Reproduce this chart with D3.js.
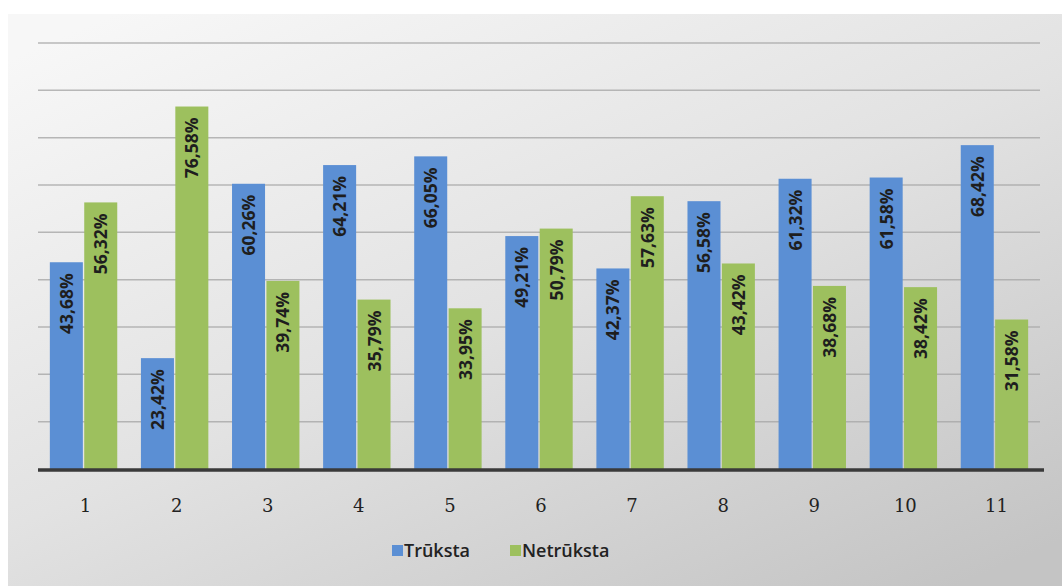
<!DOCTYPE html>
<html>
<head>
<meta charset="utf-8">
<script src="https://cdn.jsdelivr.net/npm/d3@7"></script>
<style>
  body { margin: 0; background: #fff; }
  svg { display: block; }
</style>
</head>
<body>
<div id="chart"></div>
<script>
var categories = ["1", "2", "3", "4", "5", "6", "7", "8", "9", "10", "11"];
var seriesNames = ["Trūksta", "Netrūksta"];
var trukstaValues = [43.68, 23.42, 60.26, 64.21, 66.05, 49.21, 42.37, 56.58, 61.32, 61.58, 68.42];
var netrukstaValues = [56.32, 76.58, 39.74, 35.79, 33.95, 50.79, 57.63, 43.42, 38.68, 38.42, 31.58];
var yTicks = [10, 20, 30, 40, 50, 60, 70, 80, 90];

var width = 1062,
    height = 586,
    margin = {top: 43, right: 22, bottom: 117, left: 38};

var colors = {"Trūksta": "#5b8fd4", "Netrūksta": "#9dc05e"};

var svg = d3.select("#chart").append("svg")
  .attr("width", width)
  .attr("height", height);

// background gradient
var defs = svg.append("defs");
var grad = defs.append("linearGradient")
  .attr("id", "bg")
  .attr("x1", "10%").attr("y1", "0%")
  .attr("x2", "90%").attr("y2", "100%");
grad.append("stop").attr("offset", "0%").attr("stop-color", "#f7f7f7");
grad.append("stop").attr("offset", "50%").attr("stop-color", "#e2e2e2");
grad.append("stop").attr("offset", "100%").attr("stop-color", "#c4c4c4");

svg.append("rect")
  .attr("x", 8).attr("y", 14)
  .attr("width", width - 8).attr("height", height - 14)
  .attr("fill", "url(#bg)");

var x = d3.scaleBand()
  .domain(categories)
  .range([margin.left, width - margin.right])
  .paddingInner(0.26)
  .paddingOuter(0.13);

var x1 = d3.scaleBand()
  .domain(seriesNames)
  .range([0, x.bandwidth()])
  .paddingInner(0.04);

var y = d3.scaleLinear()
  .domain([0, 90])
  .range([469, 43]);

// gridlines
svg.append("g")
  .selectAll("line")
  .data(yTicks)
  .enter()
  .append("line")
  .attr("x1", margin.left)
  .attr("x2", width - margin.right)
  .attr("y1", d => y(d))
  .attr("y2", d => y(d))
  .style("stroke", "#a8a8a8")
  .style("stroke-width", 1.5)
  .style("opacity", 0.8);

var rows = categories.map(function(c, i) {
  return {cat: c, values: [
    {name: seriesNames[0], value: trukstaValues[i]},
    {name: seriesNames[1], value: netrukstaValues[i]}
  ]};
});

var groups = svg.selectAll("g.cat")
  .data(rows)
  .enter()
  .append("g")
  .attr("class", "cat")
  .attr("transform", d => "translate(" + x(d.cat) + ",0)");

groups.selectAll("rect")
  .data(d => d.values)
  .enter()
  .append("rect")
  .attr("x", d => x1(d.name))
  .attr("width", x1.bandwidth())
  .attr("y", d => y(d.value))
  .attr("height", d => y(0) - y(d.value))
  .style("fill", d => colors[d.name]);

// value labels, rotated
var fmt = function(v) { return v.toFixed(2).replace(".", ",") + "%"; };

groups.selectAll("text")
  .data(d => d.values)
  .enter()
  .append("text")
  .attr("transform", d => "translate(" + (x1(d.name) + x1.bandwidth() / 2 + 6.5) + "," + (y(d.value) + 11) + ") rotate(-90)")
  .style("text-anchor", "end")
  .style("font", "bold 17.5px 'Open Sans', sans-serif")
  .style("fill", "#1e1e1e")
  .text(d => fmt(d.value));

// baseline
svg.append("line")
  .attr("x1", margin.left)
  .attr("x2", width - margin.right + 4)
  .attr("y1", y(0) + 1)
  .attr("y2", y(0) + 1)
  .style("stroke", "#3a3a3a")
  .style("stroke-width", 3.5);

// category axis labels
svg.append("g")
  .selectAll("text")
  .data(categories)
  .enter()
  .append("text")
  .attr("x", d => x(d) + x.bandwidth() / 2 + 2)
  .attr("y", 512)
  .style("text-anchor", "middle")
  .style("font", "18px 'DejaVu Serif', serif")
  .style("fill", "#222")
  .text(d => d);

// legend
var legend = svg.append("g").attr("transform", "translate(392,550)");
var lx = [0, 118];
seriesNames.forEach(function(name, i) {
  legend.append("rect")
    .attr("x", lx[i])
    .attr("y", -5)
    .attr("width", 11)
    .attr("height", 11)
    .style("fill", colors[name]);
  legend.append("text")
    .attr("x", lx[i] + 12)
    .attr("y", 7)
    .style("font", "600 18px 'Open Sans', sans-serif")
    .style("fill", "#222")
    .text(name);
});
</script>
</body>
</html>
